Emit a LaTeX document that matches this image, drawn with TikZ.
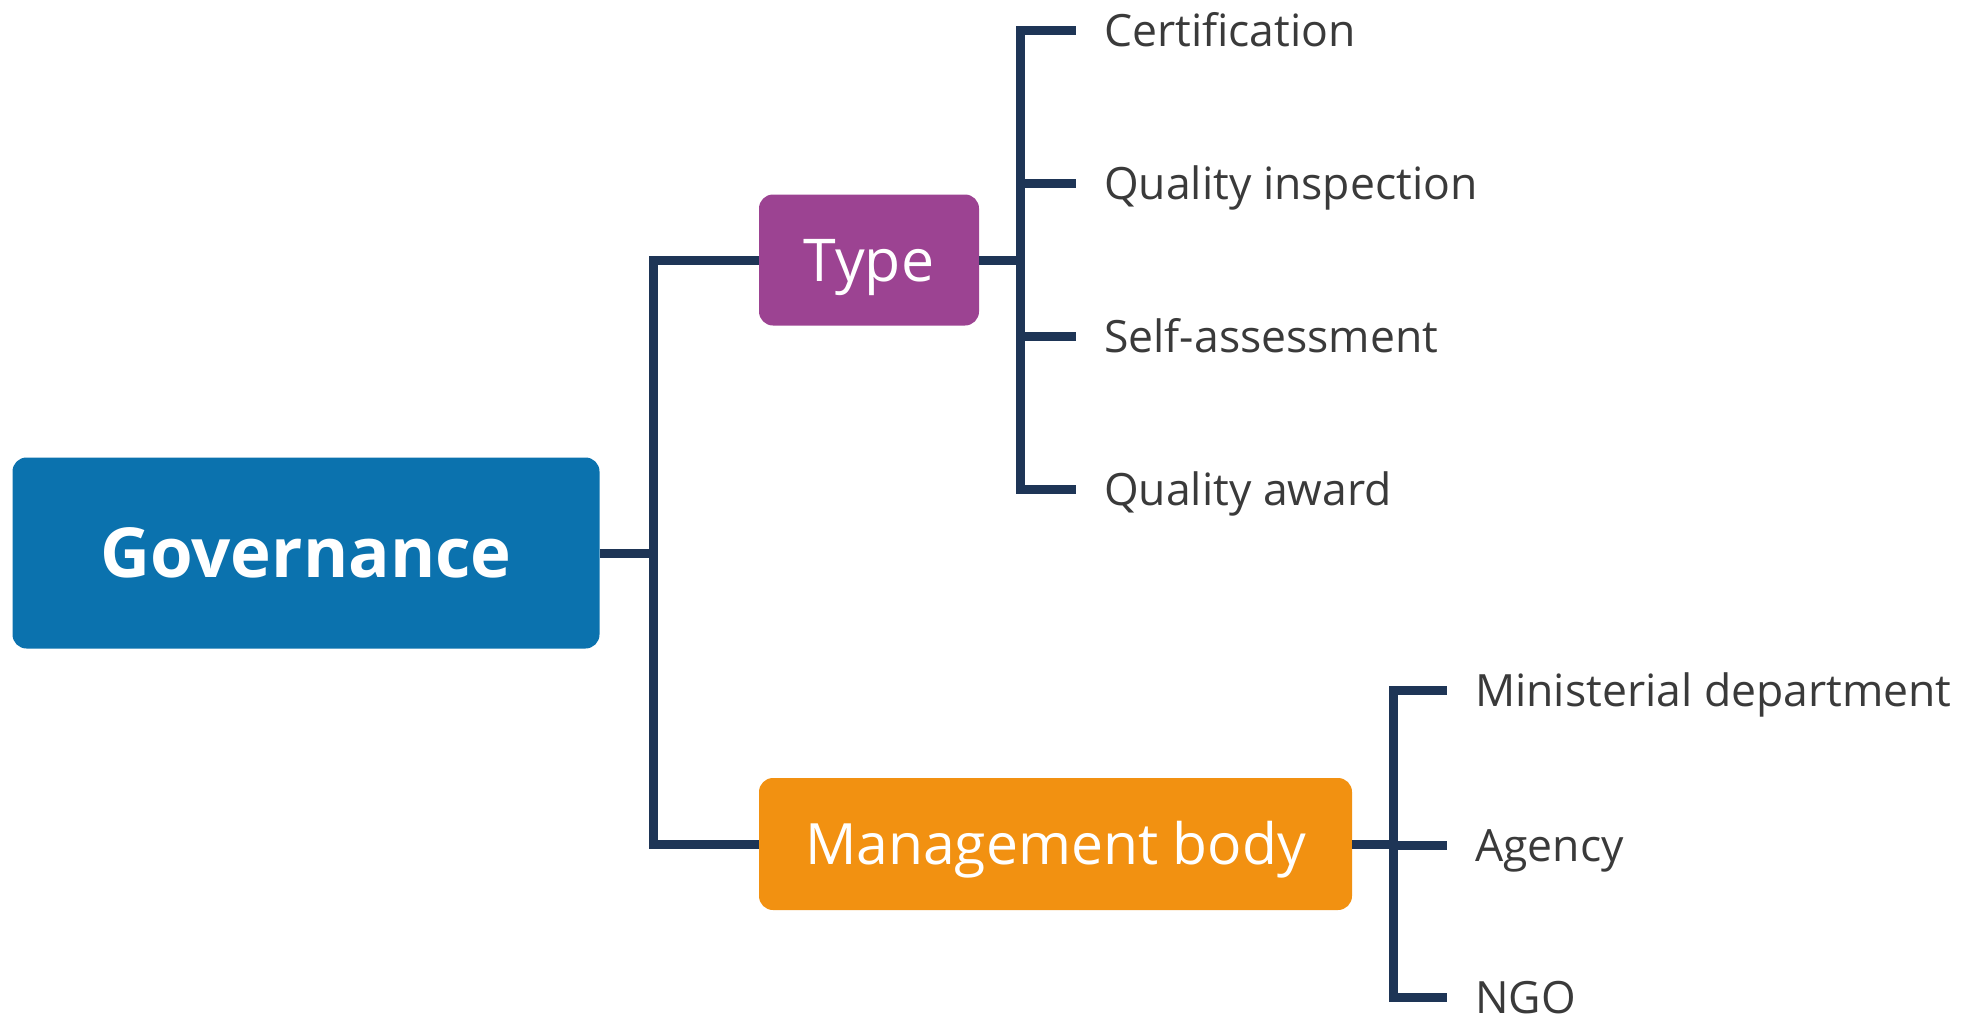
\documentclass[tikz,border=0pt]{standalone}
\usepackage{fontspec}
\setmainfont{Open Sans}
\begin{document}
\definecolor{govblue}{HTML}{0B72AE}
\definecolor{typepurple}{HTML}{9C4392}
\definecolor{mborange}{HTML}{F29111}
\definecolor{linkcol}{HTML}{1E3556}
\definecolor{leaftext}{HTML}{3A3A3A}
\begin{tikzpicture}[x=1pt,y=-1pt,
  box/.style={rectangle, rounded corners=14pt, inner sep=0pt, text=white, align=center},
  leaf/.style={anchor=west, inner xsep=28pt, inner ysep=0pt, text=leaftext,
    text height=32pt, text depth=0pt,
    font=\fontsize{44.5}{54}\selectfont},
  conn/.style={draw=linkcol, line width=9pt, line join=miter}
]
\useasboundingbox (0,0) rectangle (1968,1017);

% root and the two category boxes
\node[box, fill=govblue, minimum width=587pt, minimum height=191pt,
      text height=49pt, text depth=0pt,
      font=\fontsize{69}{80}\bfseries\selectfont] (gov) at (306,553) {Governance};
\node[box, fill=typepurple, minimum width=220pt, minimum height=131pt,
      text height=42pt, text depth=0pt,
      font=\fontsize{59}{70}\selectfont] (type) at (869,260) {Type};
\node[box, fill=mborange, minimum width=593pt, minimum height=132pt,
      text height=41pt, text depth=0pt,
      font=\fontsize{57}{68}\selectfont] (mb) at (1055.5,844) {Management body};

% junctions of the bracket connectors
\coordinate (trunk) at (653,553);
\coordinate (tj) at (1020,260);
\coordinate (mj) at (1393,844);

% leaves under Type
\node[leaf] (l1) at (1076,30)  {Certification};
\node[leaf] (l2) at (1076,183) {Quality inspection};
\node[leaf] (l3) at (1076,336) {Self-assessment};
\node[leaf] (l4) at (1076,489) {Quality award};

% leaves under Management body
\node[leaf] (m1) at (1447,690) {Ministerial department};
\node[leaf] (m2) at (1447,845) {Agency};
\node[leaf] (m3) at (1447,997) {NGO};

% root connector
\draw[conn] (gov.east) -- (trunk);
\draw[conn] (type.west) -| (trunk) |- (mb.west);

% Type bracket
\draw[conn] (type.east) -- (tj);
\draw[conn] (tj) |- (l1.west);
\draw[conn] (tj) |- (l2.west);
\draw[conn] (tj) |- (l3.west);
\draw[conn] (tj) |- (l4.west);

% Management body bracket
\draw[conn] (mb.east) -- (mj);
\draw[conn] (mj) |- (m1.west);
\draw[conn] (mj) |- (m2.west);
\draw[conn] (mj) |- (m3.west);
\end{tikzpicture}
\end{document}
